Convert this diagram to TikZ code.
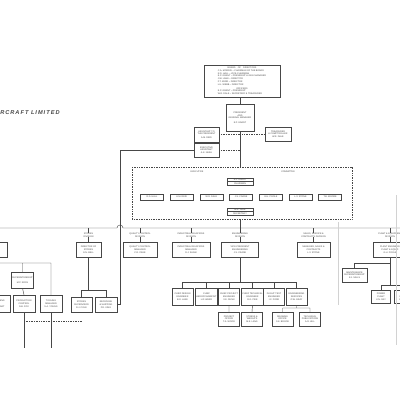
\documentclass[tikz,border=0pt]{standalone}
\usepackage{fontspec}
\setsansfont{Liberation Sans}
\usetikzlibrary{positioning,shapes.multipart}
\definecolor{ink}{gray}{.28}
\newcommand\chartfont{\fontsize{1.6}{1.95}\selectfont\sffamily}
\tikzset{
 box/.style={draw=ink,line width=.3pt,fill=white,inner sep=.2mm,align=center,text=ink,font=\chartfont},
 splitbox/.style={box,rectangle split,rectangle split parts=2},
 head/.style={inner sep=0,align=center,text=ink,font=\chartfont},
 link/.style={draw=ink,line width=.3pt},
 dots/.style={link,dash pattern=on .5pt off .7pt},
 fold/.style={draw=gray!35,line width=.2pt},
}
\begin{document}
\begin{tikzpicture}[x=.25mm,y=-.25mm]
\useasboundingbox (0,0) rectangle (400,400);
\fill[white] (0,0) rectangle (400,400);
% title, cut at the sheet edge
\node[anchor=west,inner sep=0,text=ink,font=\sffamily\bfseries\itshape\fontsize{4}{5}\selectfont\addfontfeatures{LetterSpace=18}] (title) at (0,113) {RCRAFT LIMITED};
% board and president
\node[box,line width=.5pt,minimum width=19mm,minimum height=8mm] (board) at (242,81)
 {\begin{tabular}{@{}l@{}}\multicolumn{1}{c}{BOARD\quad OF\quad DIRECTORS}\\
 C.A. MORRIS -- CHAIRMAN OF THE BOARD\\ R.D. HALL -- VICE-CHAIRMAN\\ E.P. GRANT -- PRESIDENT \& GEN. MANAGER\\
 J.W. LANE -- DIRECTOR\\ F.T. KERR -- DIRECTOR\\ H.L. WEBB -- DIRECTOR\\[.3mm]
 \multicolumn{1}{c}{OFFICERS}\\ E.P. GRANT -- PRESIDENT\\ W.R. DALE -- SECRETARY \& TREASURER\end{tabular}};
\node[box,line width=.5pt,minimum width=7mm,minimum height=6.75mm] (pres) at (240,117.5) {PRESIDENT\\AND\\GENERAL MANAGER\\[.4mm]E.P. GRANT};
\node[box,minimum width=6.25mm,minimum height=3.75mm] (asst1) at (206.5,134.5) {ASSISTANT TO\\THE PRESIDENT\\[.2mm]A.M. REID};
\node[box,minimum width=6.25mm,minimum height=3.5mm] (asst2) at (206.5,150) {EXECUTIVE\\ASSISTANT\\A.K. NASH};
\node[box,minimum width=6.5mm,minimum height=3.5mm] (treas) at (278,134) {TREASURER\\\& COMPTROLLER\\W.R. DALE};
\draw[link] (pres.north |- board.south) -- (pres.north);
\draw[dots] (asst1.east) -- (asst1.east -| pres.south);
\draw[dots] (asst2.east) -- (asst2.east -| pres.south);
\draw[dots] (treas.west) -- (treas.west -| pres.south);
% executive committee
\coordinate (execN) at (240,167);
\coordinate (execS) at (240,219);
\coordinate (bus) at (0,228);
\draw[dots] (132,167) rectangle (352,219);
\node[head] (exA) at (197,172) {EXECUTIVE};
\node[head] (exB) at (288,172) {COMMITTEE};
\node[splitbox,minimum width=6.5mm] (chair) at (240,181.5) {E.P. GRANT\nodepart{two}CHAIRMAN};
\foreach \n [count=\i] in {R.D. HALL,A.M. REID,W.R. DALE,J.S. CRANE,G.H. POOLE,L.V. STONE,T.B. MOORE}
 \node[box,minimum width=5.75mm,minimum height=1.5mm] (m\i) at ({152+29.7*(\i-1)},197) {\n};
\node[splitbox,minimum width=6.5mm] (secr) at (240,211.5) {W.R. DALE\nodepart{two}SECRETARY};
\draw[link] (pres.south) -- (execN);
\draw[link] (execS) -- (execS |- bus);
% divisions
\draw[link] (-5,228) -- (117,228) arc(180:360:3) -- (405,228);
\foreach \i/\x/\w/\hd/\bx in {
 1/-12/9.5mm/{MANUFACTURING\\DIVISION}/{WORKS MANAGER\\\\F.T. KERR},
 2/88.5/6.25mm/{STORES\\DIVISION}/{DIRECTOR OF\\STORES\\G.N. BELL},
 3/140/8.5mm/{QUALITY CONTROL\\DIVISION}/{QUALITY CONTROL\\MANAGER\\C.R. PAGE},
 4/191/9.5mm/{INDUSTRIAL RELATIONS\\DIVISION}/{INDUSTRIAL RELATIONS\\MANAGER\\D.J. SHAW},
 5/240/9.25mm/{ENGINEERING\\DIVISION}/{VICE-PRESIDENT\\ENGINEERING\\J.S. CRANE},
 6/313.5/8.25mm/{SALES, SERVICE \&\\CONTRACTS DIVISION}/{MANAGER, SALES \&\\CONTRACTS\\L.V. STONE},
 7/390/8.5mm/{PLANT \& EQUIPMENT\\DIVISION}/{PLANT ENGINEER\\PLANT \& EQUIP.\\G.H. POOLE}}{
 \node[head] (h\i) at (\x,235) {\hd};
 \node[box,minimum width=\w,minimum height=3.75mm] (d\i) at (\x,249.5) {\bx};
 \draw[link] (h\i.north |- bus) -- (h\i.north) (h\i.south) -- (d\i.north);
}
% line from executive assistant down to stores
\coordinate (corner) at (120,150);
% manufacturing
\coordinate (lb) at (0,263);
\coordinate (lowL) at (0,321);
\node[box,minimum width=5.25mm,minimum height=4mm] (l1) at (22.5,280) {SUPERINTENDENT\\\\M.P. ROSS};
\foreach \i/\x/\t in {2/-1/{PLANNING\\\\K.E. HART},3/24/{PRODUCTION\\CONTROL\\N.B. FOX},4/51/{TOOLING\\MANAGER\\S.A. YOUNG}}
 \node[box,minimum width=5.5mm,minimum height=4.25mm] (l\i) at (\x,303.5) {\t};
\draw[link] (d1.south) -- (d1.south |- lb) -- (l4.north |- lb) -- (l4.north)
 (l1.north |- lb) -- (l1.north) (l1.south) -- (l3.north) (l2.north |- lb) -- (l2.north);
\foreach \i in {2,3,4} \draw[link] (l\i.south) -- ++(0,36);
\node[box,minimum width=5.25mm,minimum height=3.75mm] (s1) at (81.5,304.5) {STORES\\SUPERVISOR\\R.J. COLE};
\node[box,minimum width=5.5mm,minimum height=3.75mm] (s2) at (106,304.5) {RECEIVING\\\& SHIPPING\\P.D. KING};
\coordinate (sb) at (0,290);
\draw[link] (d2.south) -- (d2.south |- sb) (s1.north |- sb) -- (s2.north |- sb)
 (s1.north |- sb) -- (s1.north) (s2.north |- sb) -- (s2.north);
\draw[link] (asst2.west) -- (corner) |- (s2.east);
\draw[dots] (l3.south |- lowL) -- (s1.south |- lowL);
% engineering
\coordinate (eb) at (0,282);
\coordinate (eb2) at (0,308);
\foreach \i/\x/\t in {1/182.5/{CHIEF DESIGN\\ENGINEER\\B.O. LAKE},2/206.5/{CHIEF\\AERODYNAMICIST\\H.F. WARD},
 3/229/{CHIEF PROJECT\\ENGINEER\\V.E. DUNN},4/252.5/{CHIEF TECHNICAL\\ENGINEER\\R.G. PIKE},
 5/274/{FLIGHT TEST\\ENGINEER\\I.C. FORD},6/296.5/{ENGINEERING\\SERVICES\\O.W. GRAY}}{
 \node[box,minimum width=5.25mm,minimum height=4.25mm] (e\i) at (\x,296.5) {\t};
 \draw[link] (e\i.north |- eb) -- (e\i.north);
}
\draw[link] (d5.south) -- (d5.south |- eb) (e1.north |- eb) -- (e6.north |- eb);
\foreach \i/\x/\t in {7/229/{PROJECT\\OFFICE\\T.A. WOOD},8/252/{STRESS \&\\WEIGHTS\\M.E. LANG},
 9/282.5/{DRAWING\\OFFICE\\S.K. BROOK},10/310/{TECHNICAL\\PUBLICATIONS\\A.R. HILL}}
 \node[box,minimum width=5.25mm,minimum height=3.5mm] (e\i) at (\x,319) {\t};
\draw[link] (e3.south) -- (e7.north) (e4.south) -- (e8.north)
 (e6.south) -- (e6.south |- eb2) (e9.north |- eb2) -- (e10.north |- eb2)
 (e9.north |- eb2) -- (e9.north) (e10.north |- eb2) -- (e10.north);
% plant and equipment
\coordinate (rb) at (0,263);
\coordinate (rb2) at (0,285);
\node[box,minimum width=6.25mm,minimum height=3.5mm] (r1) at (354.5,275) {MAINTENANCE\\SUPERINTENDENT\\E.J. MILLS};
\node[box,minimum width=4.75mm,minimum height=3.25mm] (r2) at (381,296.5) {POWER\\PLANT\\U.N. RAY};
\node[box,minimum width=4.75mm,minimum height=3.25mm] (r3) at (404,296.5) {PLANT\\LAYOUT\\C.S. OAK};
\draw[link] (d7.south) -- (d7.south |- rb2) (d7.south |- rb) -| (r1.north)
 (r2.north |- rb2) -- (r3.north |- rb2) (r2.north |- rb2) -- (r2.north) (r3.north |- rb2) -- (r3.north);
% paper folds
\draw[fold] (338,222) -- (338,305) (396,195) -- (396,345);
\end{tikzpicture}
\end{document}
